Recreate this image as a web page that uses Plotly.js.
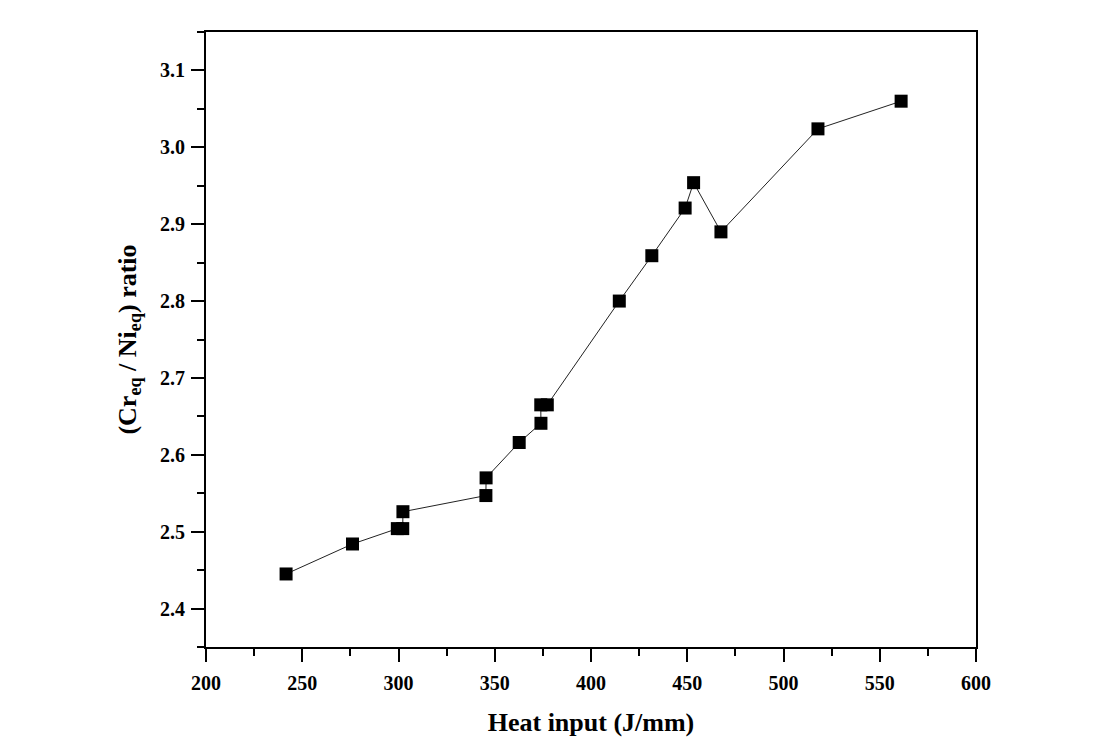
<!DOCTYPE html>
<html>
<head>
<meta charset="utf-8">
<script src="https://cdn.plot.ly/plotly-3.0.1.min.js"></script>
<style>html,body{margin:0;padding:0;background:#fff;}#chart{width:1117px;height:749px;}</style>
</head>
<body>
<div id="chart"></div>
<script>
const heatInput = [241.6, 276.1, 299.4, 302.2, 302.3, 345.4, 345.5, 362.7, 374.0, 373.9, 377.3, 414.7, 431.6, 448.9, 453.3, 467.5, 517.9, 561.1];
const ratio     = [2.445, 2.484, 2.504, 2.504, 2.526, 2.547, 2.570, 2.616, 2.641, 2.665, 2.665, 2.800, 2.859, 2.921, 2.954, 2.890, 3.024, 3.060];
const xTitle = 'Heat input (J/mm)';
const yTitle = '(Cr<sub>eq</sub> / Ni<sub>eq</sub>) ratio';

const fontFam = 'Liberation Serif, Times New Roman, serif';

const trace = {
  x: heatInput,
  y: ratio,
  mode: 'lines+markers',
  type: 'scatter',
  line: {color: '#222', width: 1},
  marker: {symbol: 'square', size: 13, color: '#000'},
  showlegend: false,
  hoverinfo: 'x+y'
};

const axisCommon = {
  showline: true, linecolor: '#000', linewidth: 2, mirror: true,
  ticks: 'outside', ticklen: 13, tickwidth: 2, tickcolor: '#000',
  showgrid: false, zeroline: false,
  tickfont: {family: fontFam, size: 20, color: '#000', weight: 700}
};

const layout = {
  width: 1117, height: 749,
  paper_bgcolor: '#fff', plot_bgcolor: '#fff',
  margin: {l: 206, r: 141, t: 32, b: 102},
  xaxis: Object.assign({}, axisCommon, {
    range: [200, 600], dtick: 50, tick0: 200,
    ticklabelstandoff: 4,
    minor: {ticks: 'outside', ticklen: 7, tickwidth: 2, tickcolor: '#000', dtick: 25, tick0: 200, showgrid: false},
    title: {text: xTitle, font: {family: fontFam, size: 26, color: '#000', weight: 700}, standoff: 20}
  }),
  yaxis: Object.assign({}, axisCommon, {
    range: [2.35, 3.15], dtick: 0.1, tick0: 2.4, tickformat: '.1f',
    ticklabelstandoff: 2,
    minor: {ticks: 'outside', ticklen: 7, tickwidth: 2, tickcolor: '#000', dtick: 0.05, tick0: 2.35, showgrid: false},
    title: {text: yTitle, font: {family: fontFam, size: 26, color: '#000', weight: 700}, standoff: 16}
  })
};

Plotly.newPlot('chart', [trace], layout, {displayModeBar: false, staticPlot: true});
</script>
</body>
</html>
